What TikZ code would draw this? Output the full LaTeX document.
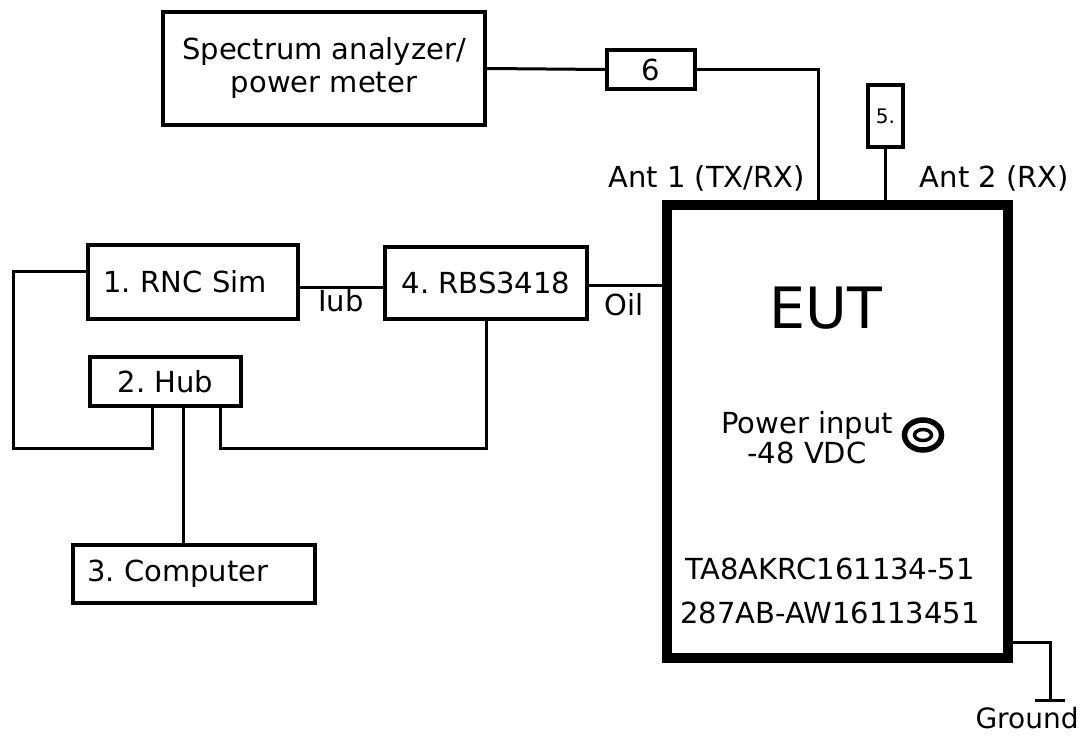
\documentclass[tikz,border=0pt]{standalone}
\usepackage{fontspec}
\setmainfont{DejaVu Sans}
\frenchspacing
\begin{document}
\begin{tikzpicture}[x=1pt,y=-1pt,
  txt/.style={font=\fontsize{29}{33}\selectfont, inner sep=0pt},
  box/.style={draw, line width=4pt, inner sep=0pt, font=\fontsize{29}{33}\selectfont},
  wire/.style={line width=3pt}]
\useasboundingbox[fill=white] (0,0) rectangle (1086,738);
% boxes
\node[box, minimum width=322pt, minimum height=113pt, align=center] (spec) at (324,68.5)
  {Spectrum analyzer/\\power meter};
\node[box, minimum width=88pt, minimum height=39pt] (six) at (651,69.5) {6};
\node[box, minimum width=35pt, minimum height=62pt, font=\fontsize{20}{22}\selectfont] (five) at (885.5,116) {5.};
\node[box, text width=180pt, inner xsep=15pt, minimum height=74pt, align=left] (rnc) at (193,282) {1. RNC Sim};
\node[box, minimum width=202pt, minimum height=72pt] (rbs) at (486,283) {4. RBS3418};
\node[box, minimum width=151pt, minimum height=49pt] (hub) at (165.5,381.5) {2. Hub};
\node[box, text width=214pt, inner xsep=14pt, minimum height=58pt, align=left] (comp) at (194,574) {3. Computer};
\node[draw, line width=10pt, minimum width=341pt, minimum height=453pt, inner sep=0pt] (eut) at (837.5,431.5) {};
% texts in EUT
\node[inner sep=0pt, font=\fontsize{57}{60}\selectfont] (euttxt) at (826,308) {EUT};
\node[txt, align=center, font=\fontsize{29}{30}\selectfont] (pwr) at (807,438) {Power input\\-48 VDC};
\node[txt, align=center, font=\fontsize{29}{44}\selectfont] (ids) at (830,591) {TA8AKRC161134-51\\287AB-AW16113451};
% power connector symbol
\draw[line width=5.5pt] (923,435) ellipse (18.5 and 15);
\draw[line width=3.5pt] (923,435) ellipse (8.5 and 5.5);
% labels
\node[txt] (ant1) at (706.5,178) {Ant 1 (TX/RX)};
\node[txt] (ant2) at (994.5,178) {Ant 2 (RX)};
\node[txt] (iub) at (341,301) {Iub};
\node[txt] (oil) at (624,305) {Oil};
\node[txt, font=\fontsize{28}{30}\selectfont] (gndtxt) at (1027,718) {Ground};
% connectors
\coordinate (a1) at (818,205);
\coordinate (gnd) at (1050,700);
\draw[wire] (spec.east) -- (six.west);
\draw[wire] (six.east) -| (a1);
\draw[wire] (five.south) -- (five.south |- eut.north);
\draw[wire] ([yshift=-5pt]rnc.east) -- ([yshift=-5pt]rnc.east -| rbs.west);
\draw[wire] ([yshift=-2pt]rbs.east) -- ([yshift=-2pt]rbs.east -| eut.west);
\draw[wire] ([yshift=11pt]rnc.west) -| (13,448) -| ([xshift=-13.5pt]hub.south);
\draw[wire] ([xshift=54.5pt]hub.south) |- (rbs.south |- 0,448) -- (rbs.south);
\draw[wire] ([xshift=17.5pt]hub.south) -- ([xshift=17.5pt]hub.south |- comp.north);
\draw[wire] (eut.east |- 0,642) -| (gnd);
\draw[wire] ([xshift=-15pt]gnd) -- ([xshift=15pt]gnd);
\end{tikzpicture}
\end{document}
